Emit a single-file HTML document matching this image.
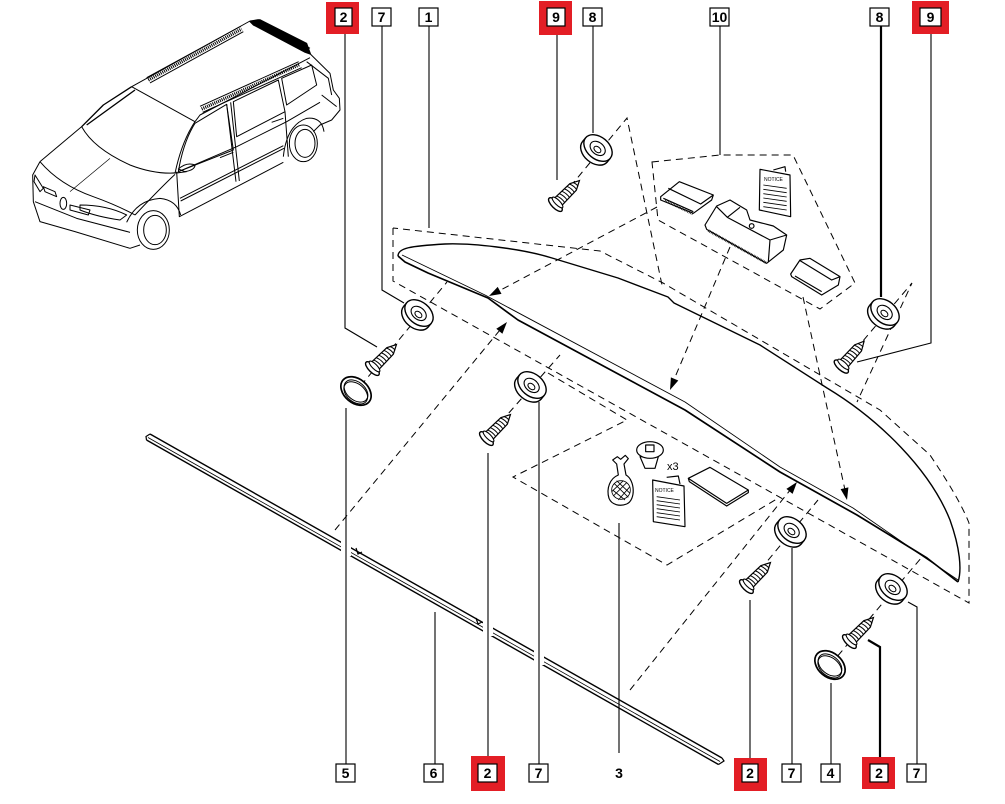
<!DOCTYPE html>
<html><head><meta charset="utf-8"><style>
html,body{margin:0;padding:0;background:#fff;}
svg{display:block;}
.l{fill:none;stroke:#000;stroke-width:1.1;}
.d{fill:none;stroke:#000;stroke-width:1;stroke-dasharray:7,5;}
.t{font-family:"Liberation Sans",sans-serif;font-weight:bold;font-size:14px;text-anchor:middle;fill:#000;}
</style></head><body>
<svg width="1005" height="804" viewBox="0 0 1005 804" xmlns="http://www.w3.org/2000/svg">
<rect width="1005" height="804" fill="#fff"/>
<defs>
 <g id="washer">
  <ellipse cx="0" cy="5" rx="16" ry="11" fill="#fff" stroke="#000" stroke-width="1.4"/>
  <rect x="-16" y="0" width="32" height="5" fill="#fff"/>
  <line x1="-16" y1="0" x2="-16" y2="5" stroke="#000" stroke-width="1.4"/>
  <line x1="16" y1="0" x2="16" y2="5" stroke="#000" stroke-width="1.4"/>
  <ellipse cx="0" cy="0" rx="16" ry="11" fill="#fff" stroke="#000" stroke-width="1.4"/>
  <ellipse cx="0" cy="0.5" rx="8.5" ry="6" fill="none" stroke="#000" stroke-width="1.1"/>
  <ellipse cx="0.5" cy="1.5" rx="4" ry="2.6" fill="none" stroke="#000" stroke-width="1"/>
 </g>
 <g id="screw">
  <path d="M6,-5.2 L27,-4.6 L36,0 L27,4.6 L6,5.2 Z" fill="#fff" stroke="#000" stroke-width="1.2"/>
  <path d="M9,-5.2 Q11,0 10,5.2 M12.5,-5.1 Q14.5,0 13.5,5.1 M16,-5 Q18,0 17,5 M19.5,-4.9 Q21.5,0 20.5,4.9 M23,-4.8 Q25,0 24,4.8 M26.5,-4.6 Q28.5,0 27.5,4.6 M30,-3.2 Q31.5,0 31,3.2" fill="none" stroke="#000" stroke-width="1"/>
  <ellipse cx="2" cy="0" rx="3.6" ry="9" fill="#fff" stroke="#000" stroke-width="1.4"/>
  <ellipse cx="5" cy="0" rx="2.4" ry="7.2" fill="#fff" stroke="#000" stroke-width="1.1"/>
 </g>
 <g id="ring">
  <ellipse rx="17" ry="12" fill="#fff" stroke="#000" stroke-width="1.7"/>
  <ellipse rx="13.5" ry="9" fill="none" stroke="#000" stroke-width="1"/>
  <ellipse cx="1" cy="1.6" rx="13.5" ry="9" fill="none" stroke="#000" stroke-width="1"/>
 </g>
</defs>

<!-- ================= CAR ================= -->
<g transform="translate(20,15) scale(0.33333)" fill="none" stroke="#000" stroke-width="3" stroke-linejoin="round">
 <path d="M335,215 L690,18 L715,14 L870,100"/>
 <path d="M690,20 L720,14 L860,85 L872,118 L855,112 L700,30 Z" fill="#000"/>
 <path d="M385,195 L665,42" stroke-width="10" stroke-dasharray="3,3"/>
 <path d="M380,188 L662,34 M390,204 L670,50"/>
 <path d="M545,282 L840,148" stroke-width="10" stroke-dasharray="3,3"/>
 <path d="M540,274 L836,140 M548,292 L845,158"/>
 <path d="M870,128 L540,300 L525,320"/>
 <path d="M335,215 L525,320"/>
 <path d="M872,118 L930,175 L940,225 L958,250 L960,285 L935,315 L900,330 L880,350"/>
 <path d="M860,140 L925,190 L935,240 M905,240 L950,275"/>
 <path d="M785,190 L875,150 L890,210 L800,270 Z"/>
 <path d="M640,260 L775,195 L795,290 L650,365 Z"/>
 <path d="M525,325 L620,268 L640,405 L475,470 Q490,380 525,325 Z"/>
 <path d="M620,268 L648,500 M632,262 L658,498"/>
 <path d="M795,290 L805,425"/>
 <path d="M475,470 L650,395 L800,320 L900,262"/>
 <path d="M470,470 L478,605 L790,442"/>
 <path d="M480,550 L790,392 M482,558 L792,400"/>
 <path d="M600,428 L640,412 M755,322 L790,310"/>
 <path d="M320,622 Q350,555 420,550 Q470,555 482,600"/>
 <ellipse cx="400" cy="645" rx="48" ry="58"/>
 <ellipse cx="405" cy="645" rx="34" ry="44"/>
 <path d="M790,425 Q800,330 860,310 Q905,305 912,350"/>
 <ellipse cx="850" cy="385" rx="42" ry="55"/>
 <ellipse cx="855" cy="385" rx="30" ry="42"/>
 <path d="M335,215 L250,270 L185,335 M345,225 L200,330" stroke-width="4"/>
 <path d="M185,335 Q220,400 330,450 Q420,485 500,470"/>
 <path d="M525,320 Q485,380 465,475"/>
 <path d="M185,335 L60,440"/>
 <path d="M60,440 Q120,510 220,545 Q290,570 345,600"/>
 <path d="M465,478 Q420,520 345,600"/>
 <path d="M270,430 L150,530" stroke-width="2"/>
 <path d="M60,440 L38,480 L40,560 L60,620 L165,650 L330,700 L360,690"/>
 <path d="M45,560 L170,610 L330,652"/>
 <ellipse cx="130" cy="565" rx="10" ry="18"/>
 <path d="M70,515 L105,530 L110,545 L75,530 Z M150,570 L210,585 L205,600 L150,585 Z"/>
 <path d="M180,570 Q260,570 320,600 L300,615 Q230,605 180,585 Z"/>
 <path d="M45,480 L70,520 L60,530 L42,500 Z"/>
 <path d="M475,462 Q500,440 525,450 Q525,465 495,470 Z"/>
</g>

<!-- ================= STRIP (6) ================= -->
<g fill="none" stroke="#000">
 <path d="M150,434 L722,758" stroke-width="1.4"/>
 <path d="M148,437.5 L720,761.5" stroke-width="0.8"/>
 <path d="M146.5,440 L718.5,764.5" stroke-width="1.4"/>
 <path d="M150,434 L146,436.5 L146.5,440 M722,758 L724,761 L718.5,764.5" stroke-width="1.2"/>
 <path d="M356,548 L358,554 L362,552 M476,618 L478,624 L482,622" stroke-width="1.2"/>
</g>
<rect x="341" y="540" width="10" height="16" fill="#fff"/>
<rect x="483" y="620" width="10" height="16" fill="#fff"/>
<rect x="534" y="649" width="10" height="16" fill="#fff"/>

<!-- ================= SPOILER (1) ================= -->
<g fill="none" stroke="#000" stroke-linejoin="round">
 <path d="M398,256 C398,248 410,246 445,244 C470,243 520,248 552,258 L618,278 L668,297 L674,303 L760,345 L827,388 C880,420 930,470 950,520 C960,548 962,570 958,582" stroke-width="1.4"/>
 <path d="M402,255 L485,295 L685,402 L780,467 L853,508 L918,553 L958,580" stroke-width="0.9"/>
 <path d="M398,256 L405,262 L428,273 L488,298 L518,320 L685,410 L780,472 L857,515 L927,558 L958,582" stroke-width="1.7"/>
</g>

<!-- ================= DASHED LINES ================= -->
<g class="d">
 <path d="M393,228 L393,281 L969,603 L969,523 C960,500 940,470 930,455 L880,410 L663,283 L600,251 L393,228"/>
 <path d="M555,205 L627,118 L662,285"/>
 <path d="M353,395 L447,282"/>
 <path d="M485,440 L560,355"/>
 <path d="M745,588 L818,500"/>
 <path d="M830,665 L922,557"/>
 <path d="M840,368 L912,283 L857,402"/>
 <path d="M652,162 L720,155 L793,155 L855,283 L820,309 L658,220 Z"/>
 <path d="M548,373 L627,420 L513,477 L667,565 L780,497"/>
 <path d="M657,207 L497,292"/>
 <path d="M335,530 L500,330"/>
 <path d="M730,247 L673,382"/>
 <path d="M803,297 L845,490"/>
 <path d="M630,690 L791,489"/>
</g>
<g fill="#000">
 <polygon points="489,296 501.5,293.9 497.7,286.9"/>
 <polygon points="507,322 502.4,333.8 496.3,328.7"/>
 <polygon points="670,390 678.3,380.5 670.9,377.4"/>
 <polygon points="847,500 848.4,487.4 840.6,489.1"/>
 <polygon points="797,482 792.6,493.9 786.4,488.9"/>
</g>

<!-- ================= LEADER LINES ================= -->
<g class="l">
 <path d="M345,34 L345,328 L377,347"/>
 <path d="M382,26 L382,290 L404,303"/>
 <path d="M429,26 L429,228"/>
 <path d="M557,35 L557,180"/>
 <path d="M593,26 L593,133"/>
 <path d="M720,26 L720,155"/>
 <path d="M881,26 L881,297" stroke-width="2.2"/>
 <path d="M931,34 L931,343 L857,362"/>
 <path d="M346,408 L346,764"/>
 <path d="M435,612 L435,764"/>
 <path d="M488,453 L488,756"/>
 <path d="M539,402 L539,764"/>
 <path d="M619,523 L619,753"/>
 <path d="M750,600 L750,758"/>
 <path d="M792,548 L792,764"/>
 <path d="M831,683 L831,764"/>
 <path d="M880,757 L880,647 L868,640" stroke-width="2.2"/>
 <path d="M917,764 L917,607 L908,602"/>
</g>

<!-- ================= PARTS ================= -->
<use href="#washer" transform="translate(419,313) rotate(40)"/>
<use href="#washer" transform="translate(598,148) rotate(40)"/>
<use href="#washer" transform="translate(532,385) rotate(40)"/>
<use href="#washer" transform="translate(792,530) rotate(40)"/>
<use href="#washer" transform="translate(893,587) rotate(40)"/>
<use href="#washer" transform="translate(885,312) rotate(40)"/>

<use href="#screw" transform="translate(371,370) rotate(-45)"/>
<use href="#screw" transform="translate(554,206) rotate(-45)"/>
<use href="#screw" transform="translate(485,440) rotate(-45)"/>
<use href="#screw" transform="translate(745,588) rotate(-45)"/>
<use href="#screw" transform="translate(848,643) rotate(-45)"/>
<use href="#screw" transform="translate(840,368) rotate(-48)"/>

<use href="#ring" transform="translate(356,391) rotate(40)"/>
<use href="#ring" transform="translate(830,665) rotate(40)"/>

<!-- ================= KIT 10 CONTENTS ================= -->
<g transform="translate(640,100) scale(0.33333)" fill="#fff" stroke="#000" stroke-width="3.5" stroke-linejoin="round">
 <path d="M62,290 L118,245 L220,285 L215,300 L160,340 L62,300 Z"/>
 <path d="M85,265 L182,312 L220,285 M70,295 L160,335" fill="none"/>
 <path d="M75,302 L158,342" fill="none" stroke-width="7" stroke-dasharray="2,3"/>
 <path d="M195,375 L230,318 L270,300 L320,330 L330,360 L400,378 L440,405 L430,450 L380,490 L200,388 Z"/>
 <path d="M230,320 L262,352 L300,322 M262,352 L390,420 L440,405 M390,420 L385,485" fill="none"/>
 <path d="M205,392 L378,488" fill="none" stroke-width="8" stroke-dasharray="2,3"/>
 <circle cx="335" cy="378" r="7" fill="none"/>
 <path d="M360,208 L450,225 L452,350 L358,330 Z"/>
 <path d="M400,210 L435,200 L437,215" fill="none"/>
 <path d="M370,255 L440,265 M370,268 L440,278 M370,281 L440,291 M370,294 L440,304 M370,307 L440,317 M370,320 L440,330" fill="none" stroke-width="2.5"/>
 <path d="M452,522 L480,480 L510,475 L600,530 L595,555 L545,585 L455,530 Z"/>
 <path d="M480,482 L575,540 L600,530 M465,528 L545,575" fill="none"/>
</g>
<text x="764" y="181" font-family="Liberation Sans,sans-serif" font-size="5" fill="#000">NOTICE</text>

<!-- ================= KIT 3 CONTENTS ================= -->
<g transform="translate(460,360) scale(0.33333)" fill="#fff" stroke="#000" stroke-width="3.5" stroke-linejoin="round">
 <path d="M458,300 L472,290 L482,298 L496,286 L505,296 L492,312 L498,345 C525,360 528,420 500,432 C480,440 455,435 447,415 C438,385 450,355 475,345 L470,312 Z"/>
 <circle cx="483" cy="390" r="28" fill="none" stroke-width="2.5"/>
 <path d="M462,370 L505,412 M470,362 L510,400 M458,390 L495,420 M500,368 L460,408 M508,382 L475,420 M490,362 L455,395" fill="none" stroke-width="2.5"/>
 <path d="M540,290 L555,325 L585,325 L595,290 Z"/>
 <ellipse cx="570" cy="270" rx="40" ry="25"/>
 <rect x="557" y="255" width="25" height="20"/>
 <path d="M578,360 L672,378 L675,500 L580,485 Z"/>
 <path d="M620,352 L655,348 L660,372" fill="none"/>
 <path d="M590,410 L660,420 M590,422 L660,432 M590,434 L660,444 M590,446 L660,456 M590,458 L660,468 M590,470 L660,480" fill="none" stroke-width="2.5"/>
 <path d="M685,355 L750,322 L865,390 L800,430 Z"/>
 <path d="M685,355 L688,365 L800,438 L865,398 L865,390" fill="none"/>
</g>
<text x="667" y="470" font-family="Liberation Sans,sans-serif" font-size="11" fill="#000">x3</text>
<text x="655" y="492" font-family="Liberation Sans,sans-serif" font-size="5" fill="#000">NOTICE</text>

<!-- ================= LABELS ================= -->
<g stroke="#000" stroke-width="1.2" fill="#fff">
 <rect x="326" y="2" width="33" height="32" fill="#e31e25" stroke="none"/>
 <rect x="335" y="8" width="17" height="18"/>
 <rect x="372" y="8" width="19" height="18"/>
 <rect x="419" y="8" width="19" height="18"/>
 <rect x="539" y="1" width="33" height="34" fill="#e31e25" stroke="none"/>
 <rect x="547" y="8" width="18" height="18"/>
 <rect x="583" y="8" width="19" height="18"/>
 <rect x="710" y="8" width="19" height="18"/>
 <rect x="870" y="8" width="19" height="18"/>
 <rect x="912" y="1" width="37" height="33" fill="#e31e25" stroke="none"/>
 <rect x="920" y="8" width="21" height="18"/>

 <rect x="336" y="764" width="19" height="18"/>
 <rect x="424" y="764" width="19" height="18"/>
 <rect x="471" y="756" width="34" height="35" fill="#e31e25" stroke="none"/>
 <rect x="478" y="764" width="19" height="18"/>
 <rect x="529" y="764" width="19" height="18"/>
 <rect x="734" y="758" width="33" height="33" fill="#e31e25" stroke="none"/>
 <rect x="742" y="764" width="16" height="18"/>
 <rect x="782" y="764" width="19" height="18"/>
 <rect x="821" y="764" width="19" height="18"/>
 <rect x="862" y="757" width="33" height="32" fill="#e31e25" stroke="none"/>
 <rect x="870" y="764" width="18" height="18"/>
 <rect x="907" y="764" width="19" height="18"/>
</g>
<g class="t">
 <text x="343.5" y="22">2</text>
 <text x="381.5" y="22">7</text>
 <text x="428.5" y="22">1</text>
 <text x="556" y="22">9</text>
 <text x="592.5" y="22">8</text>
 <text x="719.5" y="22">10</text>
 <text x="879.5" y="22">8</text>
 <text x="930.5" y="22">9</text>
 <text x="345.5" y="778">5</text>
 <text x="433.5" y="778">6</text>
 <text x="487.5" y="778">2</text>
 <text x="538.5" y="778">7</text>
 <text x="619" y="778">3</text>
 <text x="750" y="778">2</text>
 <text x="791.5" y="778">7</text>
 <text x="830.5" y="778">4</text>
 <text x="879" y="778">2</text>
 <text x="916.5" y="778">7</text>
</g>
</svg>
</body></html>
